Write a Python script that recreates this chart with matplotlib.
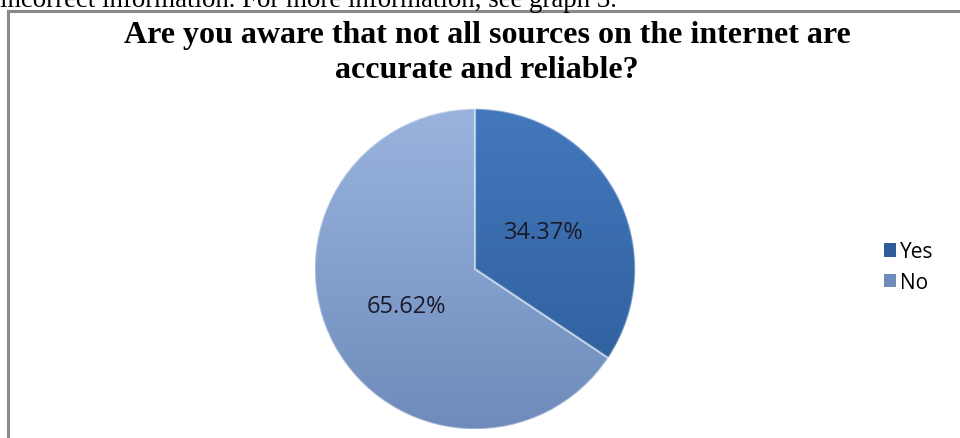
import matplotlib.pyplot as plt
import numpy as np
from matplotlib.colors import LinearSegmentedColormap
from matplotlib.patches import Rectangle

labels = ['Yes', 'No']
shares = [34.37, 65.62]
title_lines = ['Are you aware that not all sources on the internet are', 'accurate and reliable?']
page_text = 'incorrect information. For more information, see graph 3.'

# top and bottom shades for each slice
shades = [('#4378bd', '#2d5c98'), ('#9ab4de', '#6e8bbb')]

W, H = 960, 439
fig = plt.figure(figsize=(W / 100, H / 100), dpi=100)

# running text of the document, cut by the top edge
fig.text(0.0, 1 - 7 / H, page_text, family='Liberation Serif', fontsize=19.4,
         ha='left', va='baseline')

# chart frame
frame = Rectangle((7.5 / W, -0.05), 1.2, 1 - 11.5 / H + 0.05, transform=fig.transFigure,
                  fill=False, edgecolor='#8a8a8a', linewidth=2.2)
fig.patches.append(frame)

for line, base in zip(title_lines, [43, 78]):
    fig.text(487 / W, 1 - base / H, line, family='Liberation Serif', fontweight='bold',
             fontsize=23, ha='center', va='baseline')

ax = fig.add_axes([(475 - 165) / W, (H - 270 - 165) / H, 330 / W, 330 / H])
wedges, _ = ax.pie(shares, startangle=90, counterclock=False, colors=[s[1] for s in shades],
                   wedgeprops=dict(linewidth=0))

grad = np.linspace(1, 0, 256).reshape(-1, 1)
for w, (top, bottom) in zip(wedges, shades):
    cmap = LinearSegmentedColormap.from_list('s', [bottom, top])
    im = ax.imshow(grad, cmap=cmap, extent=(-1, 1, -1, 1), origin='upper', zorder=w.get_zorder())
    im.set_clip_path(w)
    w.set_facecolor('none')
    w.set_edgecolor((1, 1, 1, 0.35))
    w.set_linewidth(1.5)
    w.set_zorder(3)

ax.set_xlim(-1.03, 1.03)
ax.set_ylim(-1.03, 1.03)
ax.set_aspect('equal')
ax.axis('off')

label_pos = [(0.43, 0.23), (-0.43, -0.23)]
for (x, y), v in zip(label_pos, shares):
    ax.text(x, y, f'{v:.2f}%', ha='center', va='center', fontsize=17,
            family='Open Sans', color='#1a1a2a', zorder=5)

handles = [Rectangle((0, 0), 1, 1, facecolor=s[1], edgecolor='none') for s in shades]
fig.legend(handles, labels, loc='center left', bbox_to_anchor=(865 / W, 1 - 268 / H),
           frameon=False, prop={'family': 'Open Sans', 'size': 15},
           handlelength=0.6, handleheight=0.6, handletextpad=0.2, labelspacing=0.45)

fig.savefig('out.png', dpi=100)
